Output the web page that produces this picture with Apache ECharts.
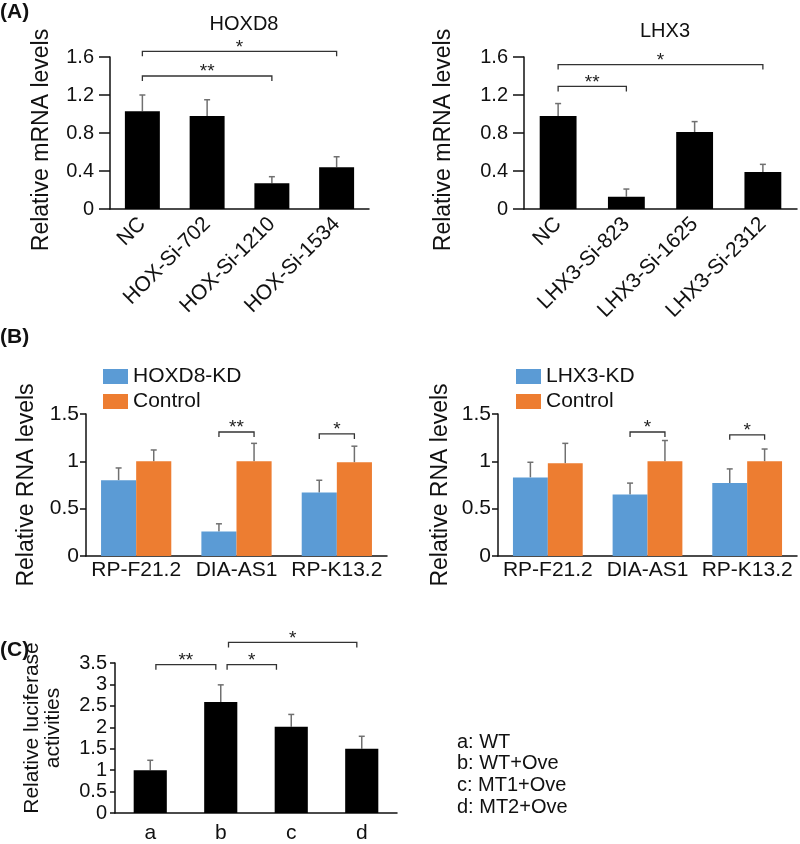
<!DOCTYPE html>
<html>
<head>
<meta charset="utf-8">
<script src="https://cdn.jsdelivr.net/npm/echarts@6/dist/echarts.min.js"></script>
<style>html,body{margin:0;padding:0;background:#fff}#c{width:800px;height:844px}</style>
</head>
<body>
<div id="c"></div>
<script>
// ---------- DATA ----------
const hoxCats = ['NC', 'HOX-Si-702', 'HOX-Si-1210', 'HOX-Si-1534'];
const hoxVals = [1.03, 0.98, 0.27, 0.44];
const hoxErr  = [1.20, 1.15, 0.34, 0.55];
const hoxBrackets = [[0, 3, 1.66, '*'], [0, 2, 1.40, '**']];

const lhxCats = ['NC', 'LHX3-Si-823', 'LHX3-Si-1625', 'LHX3-Si-2312'];
const lhxVals = [0.98, 0.13, 0.81, 0.39];
const lhxErr  = [1.11, 0.21, 0.92, 0.47];
const lhxBrackets = [[0, 3, 1.52, '*'], [0, 1, 1.29, '**']];

const rnaCats = ['RP-F21.2', 'DIA-AS1', 'RP-K13.2'];
const hoxKD      = [0.80, 0.26, 0.67];
const hoxKDErr   = [0.93, 0.34, 0.80];
const hoxCtrl    = [1.00, 1.00, 0.99];
const hoxCtrlErr = [1.12, 1.19, 1.16];
const hoxKDBrackets = [[0.825, 1.175, 1.31, '**'], [1.825, 2.175, 1.29, '*']];

const lhxKD      = [0.83, 0.65, 0.77];
const lhxKDErr   = [0.99, 0.77, 0.92];
const lhxCtrl    = [0.98, 1.00, 1.00];
const lhxCtrlErr = [1.19, 1.22, 1.13];
const lhxKDBrackets = [[0.825, 1.175, 1.31, '*'], [1.825, 2.175, 1.28, '*']];

const lucCats = ['a', 'b', 'c', 'd'];
const lucVals = [1.00, 2.59, 2.01, 1.50];
const lucErr  = [1.23, 2.99, 2.30, 1.79];
const lucBrackets = [[0.08, 0.93, 3.46, '**'], [1.09, 1.79, 3.46, '*'], [1.11, 2.93, 3.98, '*']];
const lucLegend = ['a: WT', 'b: WT+Ove', 'c: MT1+Ove', 'd: MT2+Ove'];

// ---------- HELPERS ----------
const FONT = '"Liberation Sans", Arial, sans-serif';
const BLUE = '#5B9BD5', ORANGE = '#ED7D31';

function errSeries(gi, vals, errs, offFrac) {
  return {
    type: 'custom', xAxisIndex: gi, yAxisIndex: gi, z: 1, silent: true,
    data: vals.map((v, i) => [i, v, errs[i]]),
    renderItem: function (params, api) {
      const bw = api.size([1, 0])[0];
      const p0 = api.coord([api.value(0), api.value(1)]);
      const p1 = api.coord([api.value(0), api.value(2)]);
      const x = p0[0] + offFrac * bw;
      const st = { stroke: '#707070', lineWidth: 1.5 };
      return { type: 'group', children: [
        { type: 'line', shape: { x1: x, y1: p0[1], x2: x, y2: p1[1] }, style: st },
        { type: 'line', shape: { x1: x - 3, y1: p1[1], x2: x + 3, y2: p1[1] }, style: st }
      ]};
    }
  };
}

function bracketSeries(gi, br) {
  return {
    type: 'custom', xAxisIndex: gi, yAxisIndex: gi, z: 5, silent: true, clip: false,
    data: br.map(b => [b[0], b[1], b[2]]),
    renderItem: function (params, api) {
      const bw = api.size([1, 0])[0];
      const toX = v => { const r = Math.round(v); return api.coord([r, 0])[0] + (v - r) * bw; };
      const x1 = toX(api.value(0)), x2 = toX(api.value(1));
      const y = api.coord([0, api.value(2)])[1];
      const st = { stroke: '#333', lineWidth: 1.3, fill: null };
      return { type: 'group', children: [
        { type: 'polyline', shape: { points: [[x1, y + 5], [x1, y], [x2, y], [x2, y + 5]] }, style: st },
        { type: 'text', x: (x1 + x2) / 2, y: y - 4,
          style: { text: br[params.dataIndex][3], font: '19px ' + FONT, fill: '#222', align: 'center', verticalAlign: 'middle' } }
      ]};
    }
  };
}

function xAx(gi, cats, o) {
  return Object.assign({
    type: 'category', gridIndex: gi, data: cats,
    axisLine: { lineStyle: { color: '#111', width: 1.5 } },
    axisTick: { alignWithLabel: true, length: 7, lineStyle: { color: '#111', width: 1.5 } },
    axisLabel: { color: '#111', fontFamily: FONT, fontSize: 18 }
  }, o);
}
function yAx(gi, max, interval, name, nameGap, o) {
  return Object.assign({
    type: 'value', gridIndex: gi, min: 0, max: max, interval: interval,
    splitLine: { show: false },
    axisLine: { show: true, lineStyle: { color: '#111', width: 1.5 } },
    axisTick: { show: true, length: 11, lineStyle: { color: '#111', width: 1.5 } },
    axisLabel: { color: '#111', fontFamily: FONT, fontSize: 20, margin: 16 },
    name: name, nameLocation: 'middle', nameRotate: 90, nameGap: nameGap,
    nameTextStyle: { color: '#111', fontFamily: FONT, fontSize: 23, padding: [0, 14, 0, 0] }
  }, o);
}

const rotLabel = { color: '#111', fontFamily: FONT, fontSize: 21, rotate: 45, margin: 12, interval: 0 };

const chart = echarts.init(document.getElementById('c'), null, { renderer: 'canvas' });
const option = {
  animation: false,
  backgroundColor: '#fff',
  title: [
    { text: 'HOXD8', left: 239, top: 9, textAlign: 'center', textStyle: { fontFamily: FONT, fontSize: 20, fontWeight: 'normal', color: '#111' } },
    { text: 'LHX3', left: 660, top: 16, textAlign: 'center', textStyle: { fontFamily: FONT, fontSize: 20, fontWeight: 'normal', color: '#111' } }
  ],
  legend: [
    { data: ['HOXD8-KD', 'Control'], orient: 'vertical', left: 98, top: 361, itemWidth: 25, itemHeight: 15, itemGap: 4,
      textStyle: { fontFamily: FONT, fontSize: 21, color: '#111' }, icon: 'rect' },
    { data: ['LHX3-KD', 'Control '], orient: 'vertical', left: 511, top: 361, itemWidth: 25, itemHeight: 15, itemGap: 4,
      textStyle: { fontFamily: FONT, fontSize: 21, color: '#111' }, icon: 'rect' }
  ],
  grid: [
    { left: 110, top: 57, width: 259, height: 152 },
    { left: 524, top: 57, width: 273, height: 152 },
    { left: 86, top: 414, width: 301, height: 142 },
    { left: 498, top: 414, width: 299, height: 142 },
    { left: 115, top: 663, width: 282, height: 150 }
  ],
  xAxis: [
    xAx(0, hoxCats, { axisLabel: rotLabel }),
    xAx(1, lhxCats, { axisLabel: rotLabel }),
    xAx(2, rnaCats, { axisTick: { alignWithLabel: true, length: 5, lineStyle: { color: '#111', width: 1.5 } },
                      axisLabel: { color: '#111', fontFamily: FONT, fontSize: 21, margin: 4, interval: 0 } }),
    xAx(3, rnaCats, { axisTick: { alignWithLabel: true, length: 5, lineStyle: { color: '#111', width: 1.5 } },
                      axisLabel: { color: '#111', fontFamily: FONT, fontSize: 21, margin: 4, interval: 0 } }),
    xAx(4, lucCats, { axisTick: { alignWithLabel: false, length: 6, lineStyle: { color: '#111', width: 1.5 } },
                      axisLabel: { color: '#111', fontFamily: FONT, fontSize: 21, margin: 10 } })
  ],
  yAxis: [
    yAx(0, 1.6, 0.4, 'Relative mRNA levels', 57, {}),
    yAx(1, 1.6, 0.4, 'Relative mRNA levels', 69, {}),
    yAx(2, 1.5, 0.5, 'Relative RNA levels', 48, {
      axisTick: { show: true, length: 6, lineStyle: { color: '#111', width: 1.5 } },
      axisLabel: { color: '#111', fontFamily: FONT, fontSize: 21, margin: 7 },
      nameTextStyle: { color: '#111', fontFamily: FONT, fontSize: 23 } }),
    yAx(3, 1.5, 0.5, 'Relative RNA levels', 46, {
      axisTick: { show: true, length: 6, lineStyle: { color: '#111', width: 1.5 } },
      axisLabel: { color: '#111', fontFamily: FONT, fontSize: 21, margin: 7 },
      nameTextStyle: { color: '#111', fontFamily: FONT, fontSize: 23 } }),
    yAx(4, 3.5, 0.5, 'Relative luciferase\nactivities', 51, {
      axisTick: { show: true, length: 5, lineStyle: { color: '#111', width: 1.5 } },
      axisLabel: { color: '#111', fontFamily: FONT, fontSize: 20, margin: 8 },
      nameTextStyle: { color: '#111', fontFamily: FONT, fontSize: 21, lineHeight: 21, padding: [0, 0, 0, 20] } })
  ],
  series: [
    { type: 'bar', xAxisIndex: 0, yAxisIndex: 0, data: hoxVals, barWidth: '54%', itemStyle: { color: '#000' } },
    errSeries(0, hoxVals, hoxErr, 0),
    bracketSeries(0, hoxBrackets),
    { type: 'bar', xAxisIndex: 1, yAxisIndex: 1, data: lhxVals, barWidth: '54%', itemStyle: { color: '#000' } },
    errSeries(1, lhxVals, lhxErr, 0),
    bracketSeries(1, lhxBrackets),
    { name: 'HOXD8-KD', type: 'bar', xAxisIndex: 2, yAxisIndex: 2, data: hoxKD, barGap: '0%', barCategoryGap: '30%', itemStyle: { color: BLUE } },
    { name: 'Control', type: 'bar', xAxisIndex: 2, yAxisIndex: 2, data: hoxCtrl, barGap: '0%', barCategoryGap: '30%', itemStyle: { color: ORANGE } },
    errSeries(2, hoxKD, hoxKDErr, -0.175),
    errSeries(2, hoxCtrl, hoxCtrlErr, 0.175),
    bracketSeries(2, hoxKDBrackets),
    { name: 'LHX3-KD', type: 'bar', xAxisIndex: 3, yAxisIndex: 3, data: lhxKD, barGap: '0%', barCategoryGap: '30%', itemStyle: { color: BLUE } },
    { name: 'Control ', type: 'bar', xAxisIndex: 3, yAxisIndex: 3, data: lhxCtrl, barGap: '0%', barCategoryGap: '30%', itemStyle: { color: ORANGE } },
    errSeries(3, lhxKD, lhxKDErr, -0.175),
    errSeries(3, lhxCtrl, lhxCtrlErr, 0.175),
    bracketSeries(3, lhxKDBrackets),
    { type: 'bar', xAxisIndex: 4, yAxisIndex: 4, data: lucVals, barWidth: '47%', itemStyle: { color: '#000' } },
    errSeries(4, lucVals, lucErr, 0),
    bracketSeries(4, lucBrackets)
  ],
  graphic: [
    { type: 'text', left: 0, top: 2, style: { text: '(A)', font: 'bold 21px ' + FONT, fill: '#111' } },
    { type: 'text', left: 0, top: 327, style: { text: '(B)', font: 'bold 21px ' + FONT, fill: '#111' } },
    { type: 'text', left: 0, top: 640, style: { text: '(C)', font: 'bold 21px ' + FONT, fill: '#111' } }
  ].concat(lucLegend.map((t, i) => ({
    type: 'text', left: 457, top: 732 + i * 21.7, style: { text: t, font: '20px ' + FONT, fill: '#111' }
  })))
};
chart.setOption(option);
</script>
</body>
</html>
